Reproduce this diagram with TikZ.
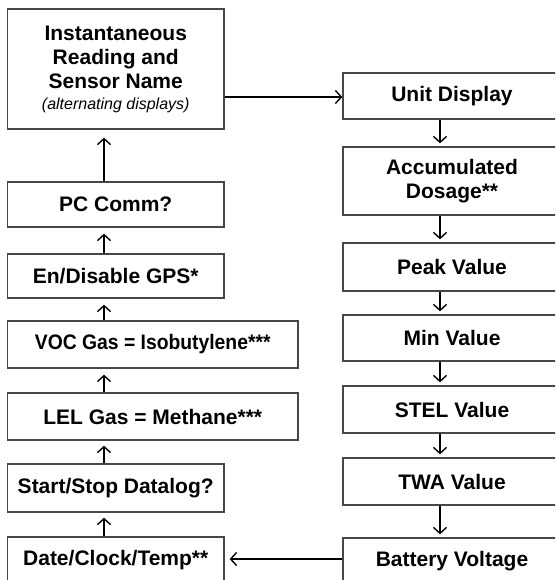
\documentclass[tikz,border=0pt]{standalone}
\usepackage{fontspec}
\setmainfont{Liberation Sans}
\usepackage{graphicx}
\usetikzlibrary{arrows.meta,calc}
\begin{document}
\begin{tikzpicture}[x=1pt,y=-1pt,
  box/.style={draw=black!72, line width=1.3pt, fill=white, inner sep=0pt,
    align=center, font=\fontsize{21}{24}\selectfont\bfseries},
  lbox/.style={box, minimum width=216.5pt},
  wbox/.style={box, minimum width=290.5pt},
  rbox/.style={box, minimum width=218pt},
  arr/.style={line width=1.8pt, -{Straight Barb[length=6pt,width=13pt,line width=1.4pt]}}
]
\useasboundingbox (0,0) rectangle (555,580);
\fill[white] (0,0) rectangle (555,580);
\clip (0,0) rectangle (555,580);

% left column
\node[lbox, minimum height=120pt] (top) at (115.75,69)
  {Instantaneous\\Reading and\\Sensor Name\\[-3pt]{\fontsize{16}{18}\selectfont\mdseries\itshape (alternating displays)}};
\node[lbox, minimum height=45pt] (pc) at (115.75,204.5) {PC Comm?};
\node[lbox, minimum height=44pt] (gps) at (115.75,276) {En/Disable GPS*};
\node[wbox, minimum height=47pt] (voc) at (152.75,344.5) {\scalebox{0.92}[1]{VOC Gas = Isobutylene***}};
\node[wbox, minimum height=47pt] (lel) at (152.75,416.5) {LEL Gas = Methane***};
\node[lbox, minimum height=48pt] (start) at (115.75,488) {Start/Stop Datalog?};
\node[lbox, minimum height=47pt] (date) at (115.75,560.5) {Date/Clock/Temp**};

% right column
\node[rbox, minimum height=46pt] (unit) at (452,96) {Unit Display};
\node[rbox, minimum height=68pt] (acc) at (452,181) {Accumulated\\Dosage**};
\node[rbox, minimum height=48pt] (peak) at (452,267) {Peak Value};
\node[rbox, minimum height=46pt] (min) at (452,338) {Min Value};
\node[rbox, minimum height=47pt] (stel) at (452,409.5) {STEL Value};
\node[rbox, minimum height=47pt] (twa) at (452,481.5) {TWA Value};
\node[rbox, minimum height=47pt] (bat) at (452,561.5) {Battery Voltage};

\coordinate (lx) at (104,0);
\coordinate (rx) at (440,0);
\coordinate (ay) at (0,97);
\coordinate (by) at (0,559);

% left column arrows (upwards)
\draw[arr] (pc.north -| lx) -- ([yshift=-8pt]top.south -| lx);
\draw[arr] (gps.north -| lx) -- ([yshift=-6pt]pc.south -| lx);
\draw[arr] (voc.north -| lx) -- ([yshift=-6pt]gps.south -| lx);
\draw[arr] (lel.north -| lx) -- ([yshift=-6pt]voc.south -| lx);
\draw[arr] (start.north -| lx) -- ([yshift=-5pt]lel.south -| lx);
\draw[arr] (date.north -| lx) -- ([yshift=-5pt]start.south -| lx);

% right column arrows (downwards)
\draw[arr] (unit.south -| rx) -- ([yshift=3pt]acc.north -| rx);
\draw[arr] (acc.south -| rx) -- ([yshift=3pt]peak.north -| rx);
\draw[arr] (peak.south -| rx) -- ([yshift=3pt]min.north -| rx);
\draw[arr] (min.south -| rx) -- ([yshift=3pt]stel.north -| rx);
\draw[arr] (stel.south -| rx) -- ([yshift=3pt]twa.north -| rx);
\draw[arr] (twa.south -| rx) -- ([yshift=3pt]bat.north -| rx);

% cross arrows
\draw[arr] (top.east |- ay) -- (unit.west |- ay);
\draw[arr] (bat.west |- by) -- ([xshift=5pt]date.east |- by);
\end{tikzpicture}
\end{document}
